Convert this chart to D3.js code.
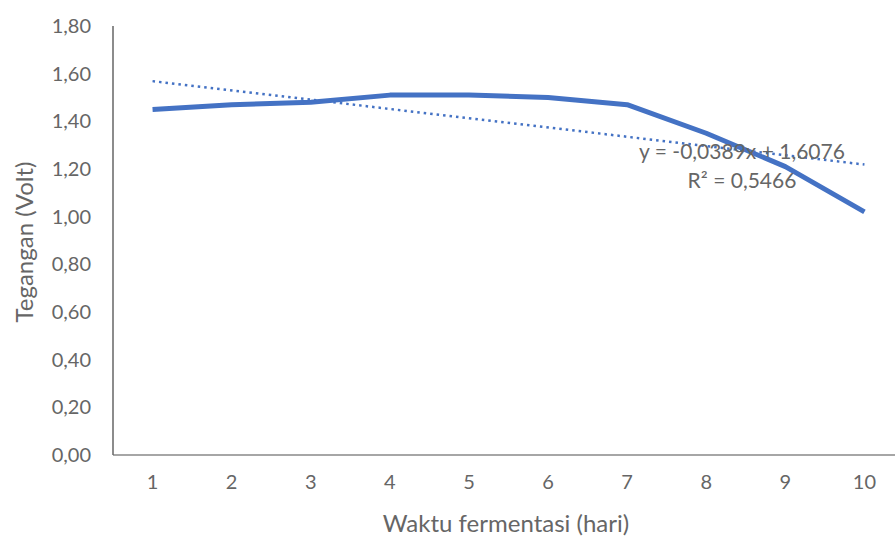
<!DOCTYPE html>
<html>
<head>
<meta charset="utf-8">
<script src="https://cdn.jsdelivr.net/npm/d3@7"></script>
<style>
  body { margin: 0; background: #fff; }
  text { font-family: Lato, "Open Sans", sans-serif; fill: #666; }
</style>
</head>
<body>
<div id="chart"></div>
<script>
var svgWidth = 895;
var svgHeight = 538;

// data
var days = [1, 2, 3, 4, 5, 6, 7, 8, 9, 10];
var voltage = [1.45, 1.47, 1.48, 1.51, 1.51, 1.50, 1.47, 1.35, 1.21, 1.02];
var yTicks = [0, 0.2, 0.4, 0.6, 0.8, 1.0, 1.2, 1.4, 1.6, 1.8];
var trendSlope = -0.0389;
var trendIntercept = 1.6076;
var trendLabel = ["y = -0,0389x + 1,6076", "R² = 0,5466"];

var margin = { top: 26, left: 113, bottom: 83 };
var plotRight = 904;

var svg = d3.select("#chart")
  .append("svg")
  .attr("width", svgWidth)
  .attr("height", svgHeight);

var x = d3.scaleBand()
  .domain(days)
  .range([margin.left, plotRight]);

var y = d3.scaleLinear()
  .domain([0, 1.8])
  .range([svgHeight - margin.bottom, margin.top]);

var fmt = function(d) { return d3.format(".2f")(d).replace(".", ","); };

var xc = function(d) { return x(d) + x.bandwidth() / 2; };

// y axis labels
var leftAxis = d3.axisLeft(y).tickValues(yTicks).tickFormat(fmt).tickSize(0).tickPadding(22);
var yAxisG = svg.append("g")
  .attr("transform", `translate(${margin.left}, 0)`)
  .call(leftAxis);
yAxisG.select(".domain").remove();
yAxisG.selectAll("text")
  .attr("font-size", "20px")
  .style("font-family", "Lato, sans-serif")
  .attr("fill", "#666");

var bottomAxis = d3.axisBottom(x).tickSize(0).tickPadding(20);
var xAxisG = svg.append("g")
  .attr("transform", `translate(0, ${y(0)})`)
  .call(bottomAxis);
xAxisG.select(".domain").remove();
xAxisG.selectAll("text")
  .attr("font-size", "20px")
  .style("font-family", "Lato, sans-serif")
  .attr("fill", "#666");

// axis lines
svg.append("line")
  .attr("x1", margin.left).attr("x2", plotRight)
  .attr("y1", y(0)).attr("y2", y(0))
  .attr("stroke", "#a6a6a6")
  .attr("stroke-width", 2);

svg.append("line")
  .attr("x1", margin.left).attr("x2", margin.left)
  .attr("y1", y(1.8)).attr("y2", y(0))
  .attr("stroke", "#666")
  .attr("stroke-width", 1.5);

// data line
var line = d3.line()
  .x(function(d, i) { return xc(days[i]); })
  .y(function(d) { return y(d); });

svg.append("path")
  .datum(voltage)
  .attr("fill", "none")
  .attr("stroke", "#4472c4")
  .attr("stroke-width", 5)
  .attr("stroke-linejoin", "round")
  .attr("d", line);

// linear trendline
var trendEnds = [days[0], days[days.length - 1]];
svg.append("line")
  .attr("x1", xc(trendEnds[0]))
  .attr("y1", y(trendSlope * trendEnds[0] + trendIntercept))
  .attr("x2", xc(trendEnds[1]))
  .attr("y2", y(trendSlope * trendEnds[1] + trendIntercept))
  .attr("stroke", "#4472c4")
  .attr("stroke-width", 2.5)
  .attr("stroke-dasharray", "2.5,4");

svg.selectAll(".trendLabel")
  .data(trendLabel)
  .enter()
  .append("text")
  .attr("class", "trendLabel")
  .attr("x", 742)
  .attr("y", function(d, i) { return 159 + i * 29; })
  .attr("text-anchor", "middle")
  .attr("font-size", "21px")
  .text(function(d) { return d; });

// axis titles
svg.append("text")
  .attr("x", 506)
  .attr("y", 532)
  .attr("text-anchor", "middle")
  .attr("font-size", "24px")
  .text("Waktu fermentasi (hari)");

svg.append("text")
  .attr("transform", "rotate(-90)")
  .attr("x", -242)
  .attr("y", 33)
  .attr("text-anchor", "middle")
  .attr("font-size", "24px")
  .text("Tegangan (Volt)");
</script>
</body>
</html>
